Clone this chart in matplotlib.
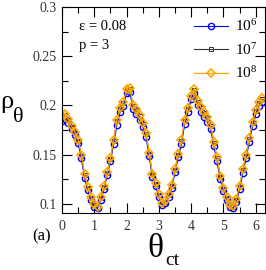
import matplotlib
matplotlib.use("Agg")
import matplotlib.pyplot as plt
from matplotlib.ticker import MultipleLocator

plt.rcParams['font.family'] = ['Liberation Serif', 'DejaVu Serif']
plt.rcParams['mathtext.fontset'] = 'custom'
plt.rcParams['mathtext.rm'] = 'Liberation Serif'
plt.rcParams['mathtext.it'] = 'Liberation Serif'
plt.rcParams['mathtext.bf'] = 'Liberation Serif:bold'

theta = [0.0, 0.1, 0.2, 0.3, 0.4, 0.5, 0.6, 0.7, 0.8, 0.9,
         1.0, 1.1, 1.2, 1.3, 1.4, 1.5, 1.6, 1.7, 1.8, 1.9,
         2.0, 2.1, 2.2, 2.3, 2.4, 2.5, 2.6, 2.7, 2.8, 2.9,
         3.0, 3.1, 3.2, 3.3, 3.4, 3.5, 3.6, 3.7, 3.8, 3.9,
         4.0, 4.1, 4.2, 4.3, 4.4, 4.5, 4.6, 4.7, 4.8, 4.9,
         5.0, 5.1, 5.2, 5.3, 5.4, 5.5, 5.6, 5.7, 5.8, 5.9,
         6.0, 6.1, 6.2]

rho_1e8 = [0.190, 0.191, 0.186, 0.179, 0.173, 0.165, 0.150, 0.130, 0.117, 0.107,
           0.100, 0.097, 0.107, 0.118, 0.132, 0.146, 0.165, 0.185, 0.197, 0.203,
           0.217, 0.218, 0.200, 0.196, 0.190, 0.182, 0.172, 0.152, 0.130, 0.121,
           0.110, 0.101, 0.103, 0.110, 0.119, 0.135, 0.151, 0.165, 0.185, 0.197,
           0.210, 0.217, 0.204, 0.198, 0.193, 0.188, 0.180, 0.163, 0.147, 0.128,
           0.116, 0.107, 0.099, 0.098, 0.105, 0.118, 0.135, 0.150, 0.167, 0.183,
           0.195, 0.203, 0.207]

rho_1e7 = [0.189, 0.190, 0.185, 0.178, 0.172, 0.164, 0.149, 0.129, 0.116, 0.106,
           0.099, 0.097, 0.106, 0.117, 0.131, 0.145, 0.164, 0.184, 0.196, 0.202,
           0.216, 0.217, 0.199, 0.195, 0.189, 0.181, 0.171, 0.151, 0.129, 0.120,
           0.109, 0.100, 0.102, 0.109, 0.118, 0.134, 0.150, 0.164, 0.184, 0.196,
           0.209, 0.216, 0.203, 0.197, 0.192, 0.187, 0.179, 0.162, 0.146, 0.127,
           0.115, 0.106, 0.098, 0.097, 0.104, 0.117, 0.134, 0.149, 0.166, 0.182,
           0.194, 0.202, 0.206]

rho_1e6 = [0.184, 0.186, 0.182, 0.176, 0.170, 0.162, 0.146, 0.126, 0.114, 0.104,
           0.097, 0.096, 0.104, 0.115, 0.129, 0.143, 0.161, 0.180, 0.193, 0.199,
           0.213, 0.214, 0.196, 0.191, 0.185, 0.178, 0.168, 0.148, 0.127, 0.118,
           0.107, 0.099, 0.101, 0.107, 0.116, 0.132, 0.147, 0.161, 0.181, 0.193,
           0.206, 0.213, 0.200, 0.193, 0.188, 0.183, 0.176, 0.159, 0.143, 0.125,
           0.113, 0.104, 0.097, 0.096, 0.102, 0.115, 0.131, 0.146, 0.163, 0.179,
           0.191, 0.199, 0.203]

labels = [r'$10^6$', r'$10^7$', r'$10^8$']

W, H = 266, 270
fig = plt.figure(figsize=(W / 100, H / 100), dpi=100)
ax = fig.add_axes([0.233, 0.211, 0.763, 0.763])

ax.plot(theta, rho_1e6, color='#0000ff', lw=0.8, marker='o', ms=4.5,
        mfc='none', mec='#0000ff', mew=1.0, label=labels[0])
ax.plot(theta, rho_1e7, color='#333333', lw=0.8, marker='s', ms=3.0,
        mfc='none', mec='#333333', mew=0.7, label=labels[1])
ax.plot(theta, rho_1e8, color='#ffa500', lw=0.9, marker='D', ms=3.8,
        mfc='none', mec='#ffa500', mew=1.2, label=labels[2])

ax.set_xlim(0, 6.2832)
ax.set_ylim(0.0905, 0.3)
ax.xaxis.set_major_locator(MultipleLocator(1))
ax.xaxis.set_minor_locator(MultipleLocator(0.5))
ax.yaxis.set_minor_locator(MultipleLocator(0.025))
ax.set_yticks([0.1, 0.15, 0.2, 0.25, 0.3])
ax.set_yticklabels(['0.1', '0.15', '0.2', '0.25', '0.3'])
ax.tick_params(which='both', direction='in', top=True, right=True,
               labelsize=10, labelcolor='#333333')
ax.tick_params(which='major', length=7, width=0.8)
ax.tick_params(which='minor', length=4, width=0.8)
ax.tick_params(axis='x', pad=5)

ax.text(0.085, 0.905, 'ε = 0.08', transform=ax.transAxes,
        fontsize=10.5, va='center')
ax.text(0.085, 0.815, 'p = 3', transform=ax.transAxes, fontsize=10.5, va='center')

leg = ax.legend(loc='upper right', bbox_to_anchor=(1.01, 0.99), frameon=False,
                fontsize=11, handlelength=2.2, handletextpad=0.5,
                labelspacing=0.5, borderaxespad=0.2)

def ftext(px, py, s, size, ha='left'):
    fig.text(px / W, 1 - py / H, s, fontsize=size, ha=ha, va='baseline',
             family='Liberation Serif')

# y label: rho with theta subscript
ftext(0, 108, 'ρ', 19)
ftext(13, 122, 'θ', 16)
# x label: theta with "ct" subscript
ftext(147, 257, 'θ', 24)
ftext(165, 265, 'ct', 14)
# panel tag
ftext(32, 240, '(a)', 12)

fig.savefig('out.png', dpi=100)
